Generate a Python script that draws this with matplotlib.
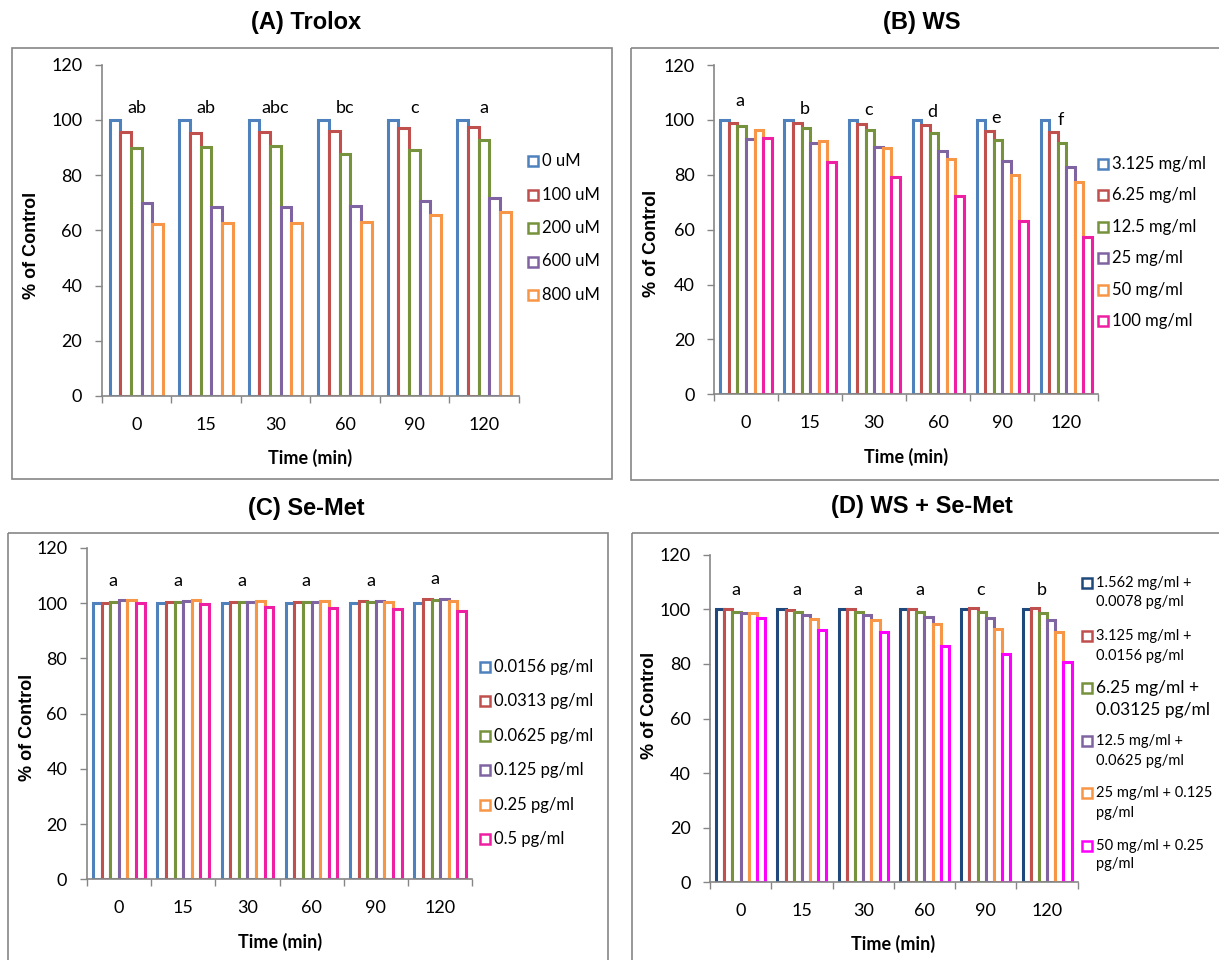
import numpy as np
import matplotlib.pyplot as plt
from matplotlib.patches import Rectangle
from matplotlib.transforms import Affine2D

W, H = 1219, 960

times = ['0', '15', '30', '60', '90', '120']

# (A) Trolox
trolox_labels = ['0 uM', '100 uM', '200 uM', '600 uM', '800 uM']
trolox_values = [
    [100, 100, 100, 100, 100, 100],
    [95.5, 95.4, 95.8, 96.0, 97.2, 97.6],
    [90.0, 90.2, 90.6, 87.5, 89.2, 92.6],
    [70.0, 68.4, 68.4, 68.9, 70.8, 71.6],
    [62.3, 62.7, 62.7, 63.0, 65.4, 66.6],
]
trolox_letters = ['ab', 'ab', 'abc', 'bc', 'c', 'a']

# (B) WS
ws_labels = ['3.125 mg/ml', '6.25 mg/ml', '12.5 mg/ml', '25 mg/ml', '50 mg/ml', '100 mg/ml']
ws_values = [
    [100, 100, 100, 100, 100, 100],
    [98.8, 98.7, 98.5, 98.2, 96.1, 95.6],
    [97.6, 97.0, 96.4, 95.4, 92.7, 91.7],
    [93.0, 91.5, 90.3, 88.5, 84.9, 83.0],
    [96.4, 92.2, 89.7, 85.9, 80.0, 77.3],
    [93.3, 84.6, 79.1, 72.1, 63.3, 57.5],
]
ws_letters = ['a', 'b', 'c', 'd', 'e', 'f']
ws_letter_y = [105.1, 102.3, 101.7, 101.1, 99.0, 98.2]

# (C) Se-Met
semet_labels = ['0.0156 pg/ml', '0.0313 pg/ml', '0.0625 pg/ml', '0.125 pg/ml', '0.25 pg/ml', '0.5 pg/ml']
semet_values = [
    [100.0, 100.1, 100.1, 100.1, 100.1, 100.1],
    [100.1, 100.4, 100.6, 100.6, 100.7, 101.4],
    [100.4, 100.4, 100.4, 100.4, 100.4, 101.1],
    [101.1, 100.8, 100.5, 100.5, 100.7, 101.4],
    [101.3, 101.2, 100.7, 100.7, 100.5, 100.8],
    [99.9, 99.6, 98.8, 98.3, 98.0, 97.0],
]
semet_letters = ['a', 'a', 'a', 'a', 'a', 'a']
semet_letter_y = [106.2, 106.2, 106.2, 106.2, 106.2, 106.9]

# (D) WS + Se-Met
mix_labels = [
    ['1.562 mg/ml +', '0.0078 pg/ml'],
    ['3.125 mg/ml +', '0.0156 pg/ml'],
    ['6.25 mg/ml +', '0.03125 pg/ml'],
    ['12.5 mg/ml +', '0.0625 pg/ml'],
    ['25 mg/ml + 0.125', 'pg/ml'],
    ['50 mg/ml + 0.25', 'pg/ml'],
]
mix_values = [
    [100, 100, 100, 100, 100, 100],
    [100.0, 99.8, 100.1, 100.2, 100.4, 100.5],
    [99.1, 98.9, 99.1, 99.1, 99.0, 98.8],
    [98.8, 97.8, 97.8, 97.3, 96.7, 96.1],
    [98.8, 96.6, 96.1, 94.5, 92.9, 91.7],
    [96.7, 92.4, 91.8, 86.7, 83.5, 80.6],
]
mix_letters = ['a', 'a', 'a', 'a', 'c', 'b']

c5 = ['#4F81BD', '#C0504D', '#76923C', '#8064A2', '#F79646']
c6 = c5 + ['#EE1FA3']
c6d = ['#1F497D', '#C0504D', '#76923C', '#8064A2', '#F79646', '#FF00FF']

GRAY = '#868686'
BODY = 'Lato'
HEAD = 'Liberation Sans'

fig = plt.figure(figsize=(W / 100, H / 100), dpi=100)
pix = Affine2D().scale(1 / W, -1 / H).translate(0, 1) + fig.transFigure


def frame(x0, y0, x1, y1):
    fig.add_artist(Rectangle((x0, y0), x1 - x0, y1 - y0, transform=pix,
                             fill=False, edgecolor=GRAY, lw=1.2))


def panel(box, values, colors, letters, letter_y, letter_dx):
    x0, y0, x1, y1 = box
    ax = fig.add_axes([x0 / W, 1 - y1 / H, (x1 - x0) / W, (y1 - y0) / H])
    n = len(values)
    w = 1 / (n + 1.5)
    idx = np.arange(len(times))
    for i, (vals, c) in enumerate(zip(values, colors)):
        ax.bar(idx + (i - (n - 1) / 2) * w, vals, width=w, facecolor='white',
               edgecolor=c, linewidth=2.2, zorder=2)
    for k, (lab, ly) in enumerate(zip(letters, letter_y)):
        ax.text(k + letter_dx, ly, lab, ha='center', va='baseline',
                fontsize=13, family=BODY)
    ax.set_xlim(-0.5, len(times) - 0.5)
    ax.set_ylim(0, 120)
    ax.set_yticks(np.arange(0, 121, 20))
    ax.set_xticks(idx)
    ax.set_xticklabels(times)
    ax.set_xticks(np.arange(-0.5, len(times), 1), minor=True)
    for s in ['top', 'right']:
        ax.spines[s].set_visible(False)
    for s in ['left', 'bottom']:
        ax.spines[s].set_color(GRAY)
        ax.spines[s].set_linewidth(1.2)
        ax.spines[s].set_zorder(3)
    ax.tick_params(axis='y', direction='out', length=5, width=1, color=GRAY,
                   labelsize=13, pad=9)
    ax.tick_params(axis='x', which='major', length=0, labelsize=13, pad=15)
    ax.tick_params(axis='x', which='minor', direction='out', length=5, width=1, color=GRAY)
    for t in ax.get_xticklabels() + ax.get_yticklabels():
        t.set_family(BODY)
    return ax


def labels(title_xy, ylab_xy, xlab_xy, title):
    fig.text(*title_xy, title, transform=pix, ha='center', va='center',
             fontsize=17, fontweight='bold', family=HEAD)
    fig.text(*ylab_xy, '% of Control', transform=pix, ha='center', va='center',
             rotation=90, fontsize=13, fontweight='bold', family=HEAD)
    fig.text(*xlab_xy, 'Time (min)', transform=pix, ha='center', va='center',
             fontsize=13, fontweight='bold', family=BODY)


def legend(entries, colors, x, y0, dy, sizes, line_dy=None):
    for i, (lab, c) in enumerate(zip(entries, colors)):
        y = y0 + i * dy
        fig.add_artist(Rectangle((x - 5, y - 5), 10, 10, transform=pix,
                                 facecolor='white', edgecolor=c, lw=1.8))
        lines = lab if isinstance(lab, list) else [lab]
        for j, line in enumerate(lines):
            fig.text(x + 9, y + j * (line_dy[i] if line_dy else 0), line,
                     transform=pix, ha='left', va='center',
                     fontsize=sizes[i], family=BODY)


# frames (right/bottom parts run off the page)
frame(12, 48, 612, 479)
frame(631, 48, 1240, 480)
frame(8, 533, 608, 990)
frame(632, 533, 1240, 990)

panel((101.7, 64.8, 518.7, 396), trolox_values, c5, trolox_letters, [102.6] * 6, 0.0)
labels((306, 23), (32, 245), (310, 458), '(A) Trolox')
legend(trolox_labels, c5, 533.4, 161, 33.5, [12] * 5)

panel((714, 65, 1098.3, 394.3), ws_values, c6, ws_letters, ws_letter_y, -0.09)
labels((922, 23), (651, 243), (906, 457), '(B) WS')
legend(ws_labels, c6, 1103, 164, 31.4, [12] * 6)

panel((86.7, 548, 472.3, 879.3), semet_values, c6, semet_letters, semet_letter_y, -0.085)
labels((306, 508), (28, 727), (280, 942), '(C) Se-Met')
legend(semet_labels, c6, 484.5, 667, 34.4, [12] * 6)

panel((710, 554.7, 1077.7, 882.3), mix_values, c6d, mix_letters, [105.4] * 6, -0.08)
labels((922, 507), (649, 705), (893, 944), '(D) WS + Se-Met')
legend(mix_labels, c6d, 1087, 583, 52.6, [10.5, 10.5, 12.5, 10.5, 10.5, 10.5],
       line_dy=[19, 20, 22, 20, 20, 18])

fig.savefig('out.png', dpi=100)
